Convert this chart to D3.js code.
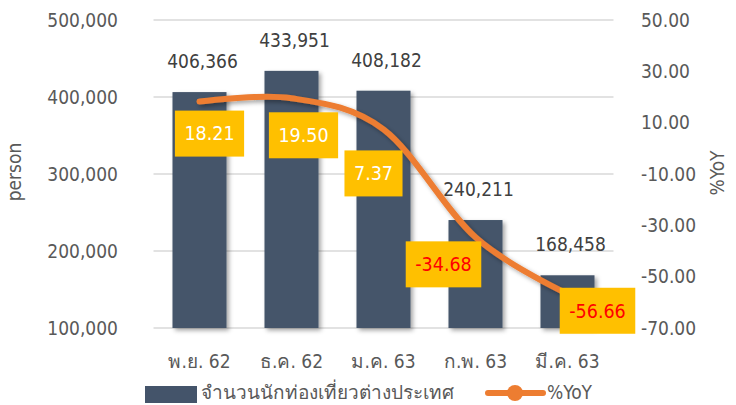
<!DOCTYPE html>
<html>
<head>
<meta charset="utf-8">
<script src="https://cdn.jsdelivr.net/npm/d3@7"></script>
<style>
  body { margin: 0; background: #fff; }
  text { font-family: "DejaVu Sans Condensed", "Liberation Sans", sans-serif; }
</style>
</head>
<body>
<svg id="chart" width="736" height="405"></svg>
<script>
var months = ["พ.ย. 62", "ธ.ค. 62", "ม.ค. 63", "ก.พ. 63", "มี.ค. 63"];
var tourists = [406366, 433951, 408182, 240211, 168458];
var yoy = [18.21, 19.50, 7.37, -34.68, -56.66];
var leftTicks = [100000, 200000, 300000, 400000, 500000];
var rightTicks = [-70, -50, -30, -10, 10, 30, 50];
// manual nudges of the %YoY labels (as in the original)
var labelNudge = [[10, 32], [12, 37], [-10, 44], [-32, 27], [30, 17]];

var svg = d3.select("#chart"),
  plot = { left: 153.5, right: 613.5, top: 20, bottom: 328 };

var x = d3.scaleBand()
  .domain(months)
  .range([plot.left, plot.right])
  .paddingInner(0.413)
  .paddingOuter(0.2065);

var yL = d3.scaleLinear().domain([100000, 500000]).range([plot.bottom, plot.top]);
var yR = d3.scaleLinear().domain([-70, 50]).range([plot.bottom, plot.top]);

var defs = svg.append("defs");
var shadow = defs.append("filter").attr("id", "shadow")
  .attr("x", "-20%").attr("y", "-20%").attr("width", "150%").attr("height", "150%");
shadow.append("feDropShadow")
  .attr("dx", 2.5).attr("dy", 2.5).attr("stdDeviation", 2)
  .attr("flood-color", "#000").attr("flood-opacity", 0.35);

var locale = d3.formatLocale({ decimal: ".", thousands: ",", grouping: [3], currency: ["", ""], minus: "-" });
var fmt = locale.format(",");
var fmt2 = locale.format(".2f");

// gridlines
svg.append("g")
  .selectAll("line")
  .data(leftTicks)
  .enter().append("line")
    .attr("x1", plot.left)
    .attr("x2", plot.right)
    .attr("y1", d => yL(d))
    .attr("y2", d => yL(d))
    .attr("stroke", "#d9d9d9")
    .attr("stroke-width", 1.5);

// left axis
svg.append("g")
    .attr("transform", "translate(118,0)")
    .call(d3.axisLeft(yL).tickValues(leftTicks).tickFormat(fmt).tickSize(0).tickPadding(0))
    .call(g => g.select(".domain").remove())
    .selectAll("text")
      .attr("fill", "#595959")
      .attr("font-size", "19px");

// right axis
svg.append("g")
    .attr("transform", "translate(641,0)")
    .call(d3.axisRight(yR).tickValues(rightTicks).tickFormat(fmt2).tickSize(0).tickPadding(0))
    .call(g => g.select(".domain").remove())
    .selectAll("text")
      .attr("fill", "#595959")
      .attr("font-size", "19px");

// x axis
svg.append("g")
    .attr("transform", "translate(0,354)")
    .call(d3.axisBottom(x).tickSize(0).tickPadding(0))
    .call(g => g.select(".domain").remove())
    .selectAll("text")
      .attr("fill", "#595959")
      .attr("font-size", "19px");

// axis titles
svg.append("text")
    .attr("transform", "translate(21,172) rotate(-90)")
    .attr("text-anchor", "middle")
    .attr("fill", "#595959")
    .attr("font-size", "19px")
    .text("person");

svg.append("text")
    .attr("transform", "translate(724,173) rotate(-90)")
    .attr("text-anchor", "middle")
    .attr("fill", "#595959")
    .attr("font-size", "19px")
    .text("%YoY");

// bars
svg.append("g")
  .selectAll("rect")
  .data(tourists)
  .enter().append("rect")
    .attr("x", (d, i) => x(months[i]))
    .attr("width", x.bandwidth())
    .attr("y", d => yL(d))
    .attr("height", d => plot.bottom - yL(d))
    .attr("fill", "#44546a")
    .attr("filter", "url(#shadow)");

// bar labels
svg.append("g")
  .selectAll("text")
  .data(tourists)
  .enter().append("text")
    .attr("x", (d, i) => x(months[i]) + x.bandwidth() / 2 + 3)
    .attr("y", d => yL(d) - 24)
    .attr("text-anchor", "middle")
    .attr("fill", "#404040")
    .attr("font-size", "19px")
    .text(d => fmt(d));

// %YoY line
var pts = yoy.map((d, i) => [x(months[i]) + x.bandwidth() / 2, yR(d)]);
var line = d3.line().curve(d3.curveCardinal.tension(0));

svg.append("path")
    .attr("d", line(pts))
    .attr("fill", "none")
    .attr("stroke", "#ed7d31")
    .attr("stroke-width", 6)
    .attr("stroke-linecap", "round")
    .attr("stroke-linejoin", "round")
    .attr("filter", "url(#shadow)");

// %YoY labels
var lab = svg.append("g")
  .selectAll("g")
  .data(yoy)
  .enter().append("g")
    .attr("transform", (d, i) => "translate(" + (pts[i][0] + labelNudge[i][0]) + "," + (pts[i][1] + labelNudge[i][1]) + ")");

lab.append("text")
    .attr("text-anchor", "middle")
    .attr("dy", "0.35em")
    .attr("fill", d => d < 0 ? "#ff0000" : "#ffffff")
    .attr("font-size", "19.5px")
    .text(d => fmt2(d));

lab.each(function() {
  var g = d3.select(this),
    bb = g.select("text").node().getBBox(),
    w = bb.width + 19;
  g.insert("rect", "text")
    .attr("x", -w / 2)
    .attr("y", -23)
    .attr("width", w)
    .attr("height", 46)
    .attr("fill", "#ffc000");
});

// legend
var legend = svg.append("g");
legend.append("rect")
    .attr("x", 145).attr("y", 386)
    .attr("width", 52).attr("height", 17)
    .attr("fill", "#44546a");
legend.append("text")
    .attr("x", 201).attr("y", 392)
    .attr("dy", "0.35em")
    .attr("fill", "#595959")
    .attr("font-size", "19px")
    .text("จำนวนนักท่องเที่ยวต่างประเทศ");
legend.append("line")
    .attr("x1", 488).attr("x2", 543)
    .attr("y1", 393).attr("y2", 393)
    .attr("stroke", "#ed7d31")
    .attr("stroke-width", 6)
    .attr("stroke-linecap", "round");
legend.append("circle")
    .attr("cx", 515).attr("cy", 393).attr("r", 8)
    .attr("fill", "#ed7d31");
legend.append("text")
    .attr("x", 547).attr("y", 392)
    .attr("dy", "0.35em")
    .attr("fill", "#595959")
    .attr("font-size", "19px")
    .text("%YoY");
</script>
</body>
</html>
